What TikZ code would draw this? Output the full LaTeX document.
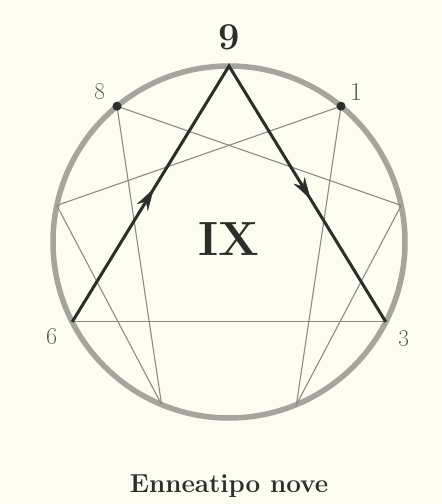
\documentclass[tikz,border=0pt]{standalone}
\usetikzlibrary{decorations.markings,arrows.meta}
\definecolor{paper}{RGB}{252,252,240}
\definecolor{ring}{RGB}{165,165,157}
\definecolor{thin}{RGB}{140,140,132}
\definecolor{ink}{RGB}{45,45,42}
\tikzset{
  ringline/.style={draw=ring,line width=5.5pt},
  thinline/.style={draw=thin,line width=1.1pt},
  boldline/.style={draw=ink,line width=3pt,line join=miter},
  midarrow/.style={postaction={decorate,decoration={markings,
     mark=at position 0.52 with {\arrow{Stealth[length=22pt,width=13pt]}}}}},
  numlabel/.style={text=ink!80,font=\fontsize{26}{26}\selectfont,inner sep=0pt},
  dot/.style={circle,fill=ink,inner sep=0pt,minimum size=9pt}
}
\begin{document}
\begin{tikzpicture}[x=1pt,y=-1pt]
\fill[paper] (0,0) rectangle (442,504);
\useasboundingbox (0,0) rectangle (442,504);
\coordinate (C) at (229,242);
\coordinate (p9) at (229,66);
\coordinate (p1) at (341.0,106.2);
\coordinate (p8) at (117.0,106.2);
\coordinate (p2) at (401.2,205.4);
\coordinate (p7) at (56.8,205.4);
\coordinate (p3) at (385.8,321.9);
\coordinate (p6) at (72.2,321.9);
\coordinate (p4) at (296.4,404.6);
\coordinate (p5) at (161.6,404.6);
% ring
\draw[ringline] (C) circle[radius=176];
% inner hexad
\draw[thinline] (p1) -- (p4);
\draw[thinline] (p4) -- (p2);
\draw[thinline] (p2) -- (p8);
\draw[thinline] (p8) -- (p5);
\draw[thinline] (p5) -- (p7);
\draw[thinline] (p7) -- (p1);
\draw[thinline] (p6) -- (p3);
% triangle
\draw[boldline] (p6) -- (p9) -- (p3);
\path[midarrow,draw=ink] (p6) -- (p9);
\path[midarrow,draw=ink] (p9) -- (p3);
% dots
\node[dot] (d8) at (p8) {};
\node[dot] (d1) at (p1) {};
% labels
\node[text=ink,font=\fontsize{38}{38}\selectfont\bfseries,inner sep=0pt] (l9) at (229,37) {9};
\node[numlabel] (l8) at (100,91) {\oldstylenums{8}};
\node[numlabel] (l1) at (356,92) {1};
\node[numlabel] (l6) at (52,336) {\oldstylenums{6}};
\node[numlabel] (l3) at (404,339) {\oldstylenums{3}};
\node[text=ink,font=\fontsize{48}{48}\selectfont\bfseries,inner sep=0pt] (ix) at (229,239) {IX};
\node[text=ink,font=\fontsize{26}{26}\selectfont\bfseries,inner sep=0pt] (title) at (229,486) {Enneatipo nove};
\end{tikzpicture}
\end{document}
